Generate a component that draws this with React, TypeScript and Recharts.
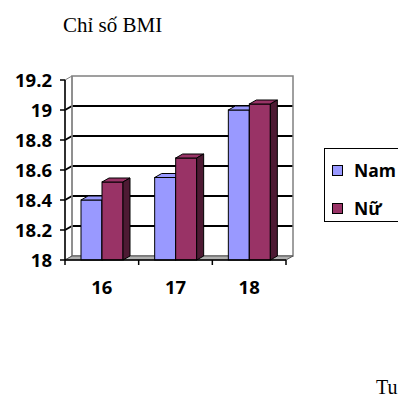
import { Bar, BarChart, CartesianGrid, ReferenceArea, XAxis, YAxis } from "recharts"

// BMI theo tuổi
const ages = ["16", "17", "18"]
const namValues = [18.4, 18.55, 19.0]
const nuValues = [18.52, 18.68, 19.04]
const yTicks = [18, 18.2, 18.4, 18.6, 18.8, 19, 19.2]
const seriesNames = ["Nam", "Nữ"]
const seriesColors = ["#9999FF", "#993366"]
const sideColors = ["#6b6bb8", "#4d1a33"]

const data = ages.map((age, i) => ({ age, nam: namValues[i], nu: nuValues[i] }))

const DX = 7
const DY = 4
const TOP = 80
const BOTTOM = 260
const axisFont = { fontFamily: "'Open Sans', sans-serif", fontWeight: 700, fontSize: 18.5, fill: "#000" }

const make3D = (front: string, side: string) => (props: any) => {
  const { x, y, width: w, height: h } = props
  if (!h || h <= 0) return <g />
  return (
    <g stroke="#000" strokeWidth={1}>
      <rect x={x} y={y} width={w} height={h} fill={front} />
      <polygon points={`${x},${y} ${x + DX},${y - DY} ${x + w + DX},${y - DY} ${x + w},${y}`} fill={front} />
      <polygon
        points={`${x + w},${y} ${x + w + DX},${y - DY} ${x + w + DX},${y + h - DY} ${x + w},${y + h}`}
        fill={side}
      />
    </g>
  )
}

const Walls = (props: any) => {
  const { x, y, width: w, height: h } = props
  const n = ages.length
  return (
    <g>
      <polygon points={`${x},${y} ${x + DX},${y - DY} ${x + DX},${y + h - DY} ${x},${y + h}`} fill="none" stroke="#808080" />
      <rect x={x + DX} y={y - DY} width={w} height={h} fill="none" stroke="#808080" strokeWidth={1.5} />
      <polygon
        points={`${x},${y + h} ${x + DX},${y + h - DY} ${x + w + DX},${y + h - DY} ${x + w},${y + h}`}
        fill="#b0b0b0"
        stroke="#555"
      />
      {Array.from({ length: n + 1 }, (_, i) => (
        <line key={i} x1={x + (w * i) / n} y1={y + h} x2={x + (w * i) / n} y2={y + h + 5} stroke="#000" strokeWidth={1.5} />
      ))}
    </g>
  )
}

const gridLine = (props: any) => {
  const { x1, y1, x2, y2, key } = props
  if (Math.abs(y1 - TOP) < 1 || Math.abs(y1 - BOTTOM) < 1) return <g key={key} />
  return (
    <g key={key} stroke="#000" strokeWidth={2}>
      <line x1={x1} y1={y1} x2={x1 + DX} y2={y1 - DY} />
      <line x1={x1 + DX} y1={y1 - DY} x2={x2 + DX} y2={y2 - DY} />
    </g>
  )
}

export default function App() {
  return (
    <div style={{ position: "fixed", top: 0, left: 0, width: 398, height: 398, background: "#fff", overflow: "hidden" }}>
      <div
        style={{
          position: "absolute",
          left: 63,
          top: 15,
          fontFamily: "'Liberation Serif', serif",
          fontSize: 21,
          lineHeight: 1,
          whiteSpace: "nowrap",
        }}
      >
        Chỉ số BMI
      </div>
      <BarChart
        width={398}
        height={398}
        data={data}
        margin={{ top: TOP, right: 112, left: 5, bottom: 108 }}
        barSize={21}
        barGap={0}
      >
        <ReferenceArea y1={18} y2={19.2} shape={Walls} ifOverflow="visible" />
        <CartesianGrid vertical={false} horizontal={gridLine} />
        <XAxis
          dataKey="age"
          height={30}
          tickLine={false}
          tickSize={0}
          tickMargin={21}
          axisLine={{ stroke: "#000", strokeWidth: 1.5 }}
          tick={axisFont}
        />
        <YAxis
          width={60}
          domain={[18, 19.2]}
          ticks={yTicks}
          interval={0}
          tickSize={5}
          tickMargin={8}
          axisLine={{ stroke: "#000", strokeWidth: 1.5 }}
          tickLine={{ stroke: "#000", strokeWidth: 1.5 }}
          tick={axisFont}
          tickFormatter={(v: number) => String(v)}
        />
        <Bar dataKey="nam" name={seriesNames[0]} fill={seriesColors[0]} shape={make3D(seriesColors[0], sideColors[0])} isAnimationActive={false} />
        <Bar dataKey="nu" name={seriesNames[1]} fill={seriesColors[1]} shape={make3D(seriesColors[1], sideColors[1])} isAnimationActive={false} />
      </BarChart>
      <div
        style={{
          position: "absolute",
          left: 324,
          top: 148,
          width: 74,
          height: 74,
          boxSizing: "border-box",
          border: "1.5px solid #000",
          borderRight: "none",
          fontFamily: "'Open Sans', sans-serif",
          fontWeight: 700,
          fontSize: 17.5,
        }}
      >
        {seriesNames.map((name, i) => (
          <div key={name} style={{ position: "absolute", left: 7, top: 8 + i * 38, display: "flex", alignItems: "center", lineHeight: "26px" }}>
            <span
              style={{
                display: "inline-block",
                width: 9,
                height: 9,
                background: seriesColors[i],
                border: "1px solid #000",
                marginRight: 11,
              }}
            />
            <span>{name}</span>
          </div>
        ))}
      </div>
      <div
        style={{
          position: "absolute",
          left: 376,
          top: 377,
          fontFamily: "'Liberation Serif', serif",
          fontSize: 20,
          lineHeight: 1,
        }}
      >
        Tu
      </div>
    </div>
  )
}
